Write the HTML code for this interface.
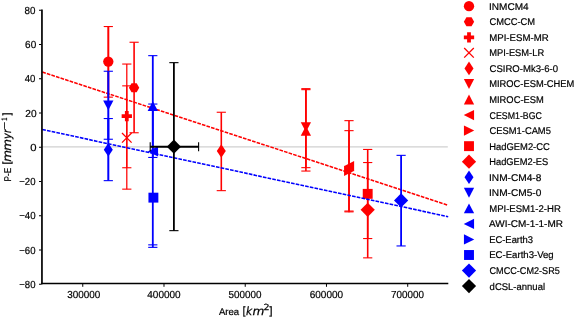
<!DOCTYPE html>
<html><head><meta charset="utf-8"><title>P-E vs Area</title>
<style>html,body{margin:0;padding:0;background:#fff}svg{display:block}text{white-space:pre;text-rendering:geometricPrecision}</style></head>
<body><svg width="575" height="318" viewBox="0 0 575 318">
<rect width="575" height="318" fill="#fff"/>
<line x1="41.95" y1="146.85" x2="447.8" y2="146.85" stroke="#d0d0d0" stroke-width="1.2"/>
<g transform="translate(0 0.25)">
<line x1="108.3" y1="26.3" x2="108.3" y2="96.9" stroke="#ff0000" stroke-width="2.0"/>
<line x1="103.7" y1="26.3" x2="112.89999999999999" y2="26.3" stroke="#ff0000" stroke-width="1.1"/>
<line x1="103.7" y1="96.9" x2="112.89999999999999" y2="96.9" stroke="#ff0000" stroke-width="1.1"/>
<circle cx="108.3" cy="61.3" r="5.15" fill="#ff0000"/>
<line x1="134.1" y1="42.0" x2="134.1" y2="132.5" stroke="#ff0000" stroke-width="1.6"/>
<line x1="129.5" y1="42.0" x2="138.7" y2="42.0" stroke="#ff0000" stroke-width="1.1"/>
<line x1="129.5" y1="132.5" x2="138.7" y2="132.5" stroke="#ff0000" stroke-width="1.1"/>
<polygon points="139.25,87.50 136.67,91.96 131.53,91.96 128.95,87.50 131.53,83.04 136.67,83.04" fill="#ff0000"/>
<line x1="126.8" y1="63.8" x2="126.8" y2="167.5" stroke="#ff0000" stroke-width="1.25"/>
<line x1="122.2" y1="63.8" x2="131.4" y2="63.8" stroke="#ff0000" stroke-width="1.1"/>
<line x1="122.2" y1="167.5" x2="131.4" y2="167.5" stroke="#ff0000" stroke-width="1.1"/>
<polygon points="124.91,110.65 128.69,110.65 128.69,113.91 131.95,113.91 131.95,117.69 128.69,117.69 128.69,120.95 124.91,120.95 124.91,117.69 121.65,117.69 121.65,113.91 124.91,113.91" fill="#ff0000"/>
<line x1="126.8" y1="85.6" x2="126.8" y2="188.9" stroke="#ff0000" stroke-width="1.25"/>
<line x1="122.2" y1="85.6" x2="131.4" y2="85.6" stroke="#ff0000" stroke-width="1.1"/>
<line x1="122.2" y1="188.9" x2="131.4" y2="188.9" stroke="#ff0000" stroke-width="1.1"/>
<path d="M122.0 132.79999999999998L131.6 142.4M122.0 142.4L131.6 132.79999999999998" stroke="#ff0000" stroke-width="1.3" fill="none"/>
<line x1="221.3" y1="112.0" x2="221.3" y2="190.4" stroke="#ff0000" stroke-width="1.6"/>
<line x1="216.70000000000002" y1="112.0" x2="225.9" y2="112.0" stroke="#ff0000" stroke-width="1.1"/>
<line x1="216.70000000000002" y1="190.4" x2="225.9" y2="190.4" stroke="#ff0000" stroke-width="1.1"/>
<polygon points="221.30,144.00 225.80,150.80 221.30,157.60 216.80,150.80" fill="#ff0000"/>
<line x1="305.9" y1="88.4" x2="305.9" y2="167.4" stroke="#ff0000" stroke-width="1.6"/>
<line x1="301.29999999999995" y1="88.4" x2="310.5" y2="88.4" stroke="#ff0000" stroke-width="1.1"/>
<line x1="301.29999999999995" y1="167.4" x2="310.5" y2="167.4" stroke="#ff0000" stroke-width="1.1"/>
<polygon points="300.75,121.95 311.05,121.95 305.90,131.85" fill="#ff0000"/>
<line x1="305.9" y1="89.4" x2="305.9" y2="170.8" stroke="#ff0000" stroke-width="1.6"/>
<line x1="301.29999999999995" y1="89.4" x2="310.5" y2="89.4" stroke="#ff0000" stroke-width="1.1"/>
<line x1="301.29999999999995" y1="170.8" x2="310.5" y2="170.8" stroke="#ff0000" stroke-width="1.1"/>
<polygon points="300.75,135.55 311.05,135.55 305.90,125.65" fill="#ff0000"/>
<line x1="349.0" y1="120.4" x2="349.0" y2="212.0" stroke="#ff0000" stroke-width="1.6"/>
<line x1="344.4" y1="120.4" x2="353.6" y2="120.4" stroke="#ff0000" stroke-width="1.1"/>
<line x1="344.4" y1="211.6" x2="353.6" y2="211.6" stroke="#ff0000" stroke-width="1.1"/>
<polygon points="354.15,160.75 354.15,171.05 343.85,165.90" fill="#ff0000"/>
<line x1="349.0" y1="130.4" x2="349.0" y2="210.6" stroke="#ff0000" stroke-width="1.6"/>
<line x1="344.4" y1="130.4" x2="353.6" y2="130.4" stroke="#ff0000" stroke-width="1.1"/>
<line x1="344.4" y1="210.8" x2="353.6" y2="210.8" stroke="#ff0000" stroke-width="1.1"/>
<polygon points="344.05,165.45 344.05,175.75 354.35,170.60" fill="#ff0000"/>
<line x1="367.7" y1="149.2" x2="367.7" y2="238.3" stroke="#ff0000" stroke-width="1.6"/>
<line x1="363.09999999999997" y1="149.2" x2="372.3" y2="149.2" stroke="#ff0000" stroke-width="1.1"/>
<line x1="363.09999999999997" y1="238.3" x2="372.3" y2="238.3" stroke="#ff0000" stroke-width="1.1"/>
<rect x="362.75" y="188.65" width="9.90" height="9.90" fill="#ff0000"/>
<line x1="367.7" y1="162.3" x2="367.7" y2="257.6" stroke="#ff0000" stroke-width="1.6"/>
<line x1="363.09999999999997" y1="162.3" x2="372.3" y2="162.3" stroke="#ff0000" stroke-width="1.1"/>
<line x1="363.09999999999997" y1="257.6" x2="372.3" y2="257.6" stroke="#ff0000" stroke-width="1.1"/>
<polygon points="367.70,202.50 374.80,209.60 367.70,216.70 360.60,209.60" fill="#ff0000"/>
<line x1="42.3" y1="71.8" x2="448.2" y2="205.0" stroke="#ff0000" stroke-width="1.55" stroke-dasharray="3.65 1.15"/>
<line x1="108.3" y1="118.3" x2="108.3" y2="180.4" stroke="#0000ff" stroke-width="2.0"/>
<line x1="103.7" y1="118.3" x2="112.89999999999999" y2="118.3" stroke="#0000ff" stroke-width="1.1"/>
<line x1="103.7" y1="180.4" x2="112.89999999999999" y2="180.4" stroke="#0000ff" stroke-width="1.1"/>
<polygon points="108.30,142.70 112.80,149.50 108.30,156.30 103.80,149.50" fill="#0000ff"/>
<line x1="108.3" y1="71.0" x2="108.3" y2="139.0" stroke="#0000ff" stroke-width="2.0"/>
<line x1="103.7" y1="71.0" x2="112.89999999999999" y2="71.0" stroke="#0000ff" stroke-width="1.1"/>
<line x1="103.7" y1="139.0" x2="112.89999999999999" y2="139.0" stroke="#0000ff" stroke-width="1.1"/>
<polygon points="103.15,100.15 113.45,100.15 108.30,110.05" fill="#0000ff"/>
<line x1="152.8" y1="55.4" x2="152.8" y2="157.2" stroke="#0000ff" stroke-width="1.8"/>
<line x1="148.20000000000002" y1="55.4" x2="157.4" y2="55.4" stroke="#0000ff" stroke-width="1.1"/>
<line x1="148.20000000000002" y1="157.2" x2="157.4" y2="157.2" stroke="#0000ff" stroke-width="1.1"/>
<polygon points="147.65,110.85 157.95,110.85 152.80,100.95" fill="#0000ff"/>
<line x1="152.8" y1="103.8" x2="152.8" y2="247.1" stroke="#0000ff" stroke-width="1.8"/>
<line x1="148.20000000000002" y1="103.8" x2="157.4" y2="103.8" stroke="#0000ff" stroke-width="1.1"/>
<line x1="148.20000000000002" y1="244.6" x2="157.4" y2="244.6" stroke="#0000ff" stroke-width="1.1"/>
<line x1="148.20000000000002" y1="247.1" x2="157.4" y2="247.1" stroke="#0000ff" stroke-width="1.1"/>
<polygon points="158.05,146.05 158.05,156.35 147.75,151.20" fill="#0000ff"/>
<rect x="148.45" y="192.45" width="9.90" height="9.90" fill="#0000ff"/>
<line x1="401.1" y1="155.1" x2="401.1" y2="245.7" stroke="#0000ff" stroke-width="1.8"/>
<line x1="396.5" y1="155.1" x2="405.70000000000005" y2="155.1" stroke="#0000ff" stroke-width="1.1"/>
<line x1="396.5" y1="245.7" x2="405.70000000000005" y2="245.7" stroke="#0000ff" stroke-width="1.1"/>
<polygon points="401.10,193.10 408.20,200.20 401.10,207.30 394.00,200.20" fill="#0000ff"/>
<line x1="42.3" y1="129.3" x2="448.2" y2="216.4" stroke="#0000ff" stroke-width="1.55" stroke-dasharray="3.65 1.15"/>
<line x1="173.9" y1="62.4" x2="173.9" y2="230.4" stroke="#000000" stroke-width="1.8"/>
<line x1="169.3" y1="62.4" x2="178.5" y2="62.4" stroke="#000000" stroke-width="1.1"/>
<line x1="169.3" y1="230.4" x2="178.5" y2="230.4" stroke="#000000" stroke-width="1.1"/>
<line x1="150.2" y1="146.5" x2="198.6" y2="146.5" stroke="#000" stroke-width="1.8"/>
<line x1="150.2" y1="142.1" x2="150.2" y2="150.9" stroke="#000" stroke-width="1.1"/>
<line x1="198.6" y1="142.1" x2="198.6" y2="150.9" stroke="#000" stroke-width="1.1"/>
<polygon points="173.90,139.30 181.00,146.40 173.90,153.50 166.80,146.40" fill="#000000"/>
</g>
<line x1="41.95" y1="9.5" x2="41.95" y2="284.3" stroke="#000" stroke-width="1.7"/>
<line x1="41.1" y1="283.55" x2="448.3" y2="283.55" stroke="#000" stroke-width="1.6"/>
<line x1="39.0" y1="284.25" x2="41.5" y2="284.25" stroke="#000" stroke-width="1"/>
<line x1="39.0" y1="250.00" x2="41.5" y2="250.00" stroke="#000" stroke-width="1"/>
<line x1="39.0" y1="215.75" x2="41.5" y2="215.75" stroke="#000" stroke-width="1"/>
<line x1="39.0" y1="181.50" x2="41.5" y2="181.50" stroke="#000" stroke-width="1"/>
<line x1="39.0" y1="147.25" x2="41.5" y2="147.25" stroke="#000" stroke-width="1"/>
<line x1="39.0" y1="113.00" x2="41.5" y2="113.00" stroke="#000" stroke-width="1"/>
<line x1="39.0" y1="78.75" x2="41.5" y2="78.75" stroke="#000" stroke-width="1"/>
<line x1="39.0" y1="44.50" x2="41.5" y2="44.50" stroke="#000" stroke-width="1"/>
<line x1="39.0" y1="10.25" x2="41.5" y2="10.25" stroke="#000" stroke-width="1"/>
<line x1="82.75" y1="283.8" x2="82.75" y2="286.8" stroke="#000" stroke-width="1"/>
<line x1="163.99" y1="283.8" x2="163.99" y2="286.8" stroke="#000" stroke-width="1"/>
<line x1="245.23" y1="283.8" x2="245.23" y2="286.8" stroke="#000" stroke-width="1"/>
<line x1="326.47" y1="283.8" x2="326.47" y2="286.8" stroke="#000" stroke-width="1"/>
<line x1="407.71" y1="283.8" x2="407.71" y2="286.8" stroke="#000" stroke-width="1"/>
<circle cx="469.0" cy="6.2" r="5.15" fill="#ff0000"/>
<polygon points="474.15,21.75 471.57,26.21 466.43,26.21 463.85,21.75 466.43,17.29 471.57,17.29" fill="#ff0000"/>
<polygon points="467.11,32.15 470.89,32.15 470.89,35.41 474.15,35.41 474.15,39.19 470.89,39.19 470.89,42.45 467.11,42.45 467.11,39.19 463.85,39.19 463.85,35.41 467.11,35.41" fill="#ff0000"/>
<path d="M464.2 48.050000000000004L473.8 57.65M464.2 57.65L473.8 48.050000000000004" stroke="#ff0000" stroke-width="1.3" fill="none"/>
<polygon points="469.00,61.60 473.50,68.40 469.00,75.20 464.50,68.40" fill="#ff0000"/>
<polygon points="463.85,79.00 474.15,79.00 469.00,88.90" fill="#ff0000"/>
<polygon points="463.85,104.45 474.15,104.45 469.00,94.55" fill="#ff0000"/>
<polygon points="474.05,109.90 474.05,120.20 463.75,115.05" fill="#ff0000"/>
<polygon points="463.95,125.45 463.95,135.75 474.25,130.60" fill="#ff0000"/>
<rect x="464.05" y="141.20" width="9.90" height="9.90" fill="#ff0000"/>
<polygon points="469.00,154.60 476.10,161.70 469.00,168.80 461.90,161.70" fill="#ff0000"/>
<polygon points="469.00,170.45 473.50,177.25 469.00,184.05 464.50,177.25" fill="#0000ff"/>
<polygon points="463.85,187.85 474.15,187.85 469.00,197.75" fill="#0000ff"/>
<polygon points="463.85,213.30 474.15,213.30 469.00,203.40" fill="#0000ff"/>
<polygon points="474.05,218.75 474.05,229.05 463.75,223.90" fill="#0000ff"/>
<polygon points="463.95,234.30 463.95,244.60 474.25,239.45" fill="#0000ff"/>
<rect x="464.05" y="250.05" width="9.90" height="9.90" fill="#0000ff"/>
<polygon points="469.00,263.45 476.10,270.55 469.00,277.65 461.90,270.55" fill="#0000ff"/>
<polygon points="469.00,279.00 476.10,286.10 469.00,293.20 461.90,286.10" fill="#000000"/>
<text transform="translate(24.48 14.10) scale(0.9614 1)" font-size="10.2" font-family="'Liberation Sans',sans-serif" fill="#000" stroke="#000" stroke-width="0.2">80</text>
<text transform="translate(25.10 48.05) scale(0.9780 1)" font-size="10.2" font-family="'Liberation Sans',sans-serif" fill="#000" stroke="#000" stroke-width="0.2">60</text>
<text transform="translate(24.68 82.00) scale(0.9430 1)" font-size="10.2" font-family="'Liberation Sans',sans-serif" fill="#000" stroke="#000" stroke-width="0.2">40</text>
<text transform="translate(25.29 116.80) scale(0.9972 1)" font-size="10.2" font-family="'Liberation Sans',sans-serif" fill="#000" stroke="#000" stroke-width="0.2">20</text>
<text transform="translate(30.35 150.70) scale(1.1087 1)" font-size="10.2" font-family="'Liberation Sans',sans-serif" fill="#000" stroke="#000" stroke-width="0.2">0</text>
<text transform="translate(19.22 184.80) scale(0.9392 1)" font-size="10.2" font-family="'Liberation Sans',sans-serif" fill="#000" stroke="#000" stroke-width="0.2">−20</text>
<text transform="translate(19.21 218.80) scale(0.9514 1)" font-size="10.2" font-family="'Liberation Sans',sans-serif" fill="#000" stroke="#000" stroke-width="0.2">−40</text>
<text transform="translate(19.22 253.60) scale(0.9392 1)" font-size="10.2" font-family="'Liberation Sans',sans-serif" fill="#000" stroke="#000" stroke-width="0.2">−60</text>
<text transform="translate(19.22 287.60) scale(0.9392 1)" font-size="10.2" font-family="'Liberation Sans',sans-serif" fill="#000" stroke="#000" stroke-width="0.2">−80</text>
<text transform="translate(67.13 297.80) scale(0.9744 1)" font-size="10.2" font-family="'Liberation Sans',sans-serif" fill="#000" stroke="#000" stroke-width="0.2">300000</text>
<text transform="translate(147.27 297.80) scale(0.9819 1)" font-size="10.2" font-family="'Liberation Sans',sans-serif" fill="#000" stroke="#000" stroke-width="0.2">400000</text>
<text transform="translate(228.60 297.80) scale(0.9691 1)" font-size="10.2" font-family="'Liberation Sans',sans-serif" fill="#000" stroke="#000" stroke-width="0.2">500000</text>
<text transform="translate(309.70 297.80) scale(0.9811 1)" font-size="10.2" font-family="'Liberation Sans',sans-serif" fill="#000" stroke="#000" stroke-width="0.2">600000</text>
<text transform="translate(391.08 297.80) scale(0.9668 1)" font-size="10.2" font-family="'Liberation Sans',sans-serif" fill="#000" stroke="#000" stroke-width="0.2">700000</text>
<text fill="#000"><tspan x="218.98" y="314.90" font-size="9.80" font-family="'Liberation Sans',sans-serif" textLength="22.80" lengthAdjust="spacingAndGlyphs" stroke="#000" stroke-width="0.2">Area </tspan><tspan x="242.38" y="315.20" font-size="11.40" font-family="'DejaVu Sans',sans-serif" textLength="3.76" lengthAdjust="spacingAndGlyphs" stroke="#000" stroke-width="0.25">[</tspan><tspan x="245.93" y="315.20" font-size="11.40" font-family="'DejaVu Sans',sans-serif" font-style="italic" textLength="6.14" lengthAdjust="spacingAndGlyphs" stroke="#000" stroke-width="0.25">k</tspan><tspan x="252.57" y="315.20" font-size="11.40" font-family="'DejaVu Sans',sans-serif" font-style="italic" textLength="11.87" lengthAdjust="spacingAndGlyphs" stroke="#000" stroke-width="0.25">m</tspan><tspan x="263.51" y="309.90" font-size="8.44" font-family="'DejaVu Sans',sans-serif" textLength="6.05" lengthAdjust="spacingAndGlyphs" stroke="#000" stroke-width="0.25">2</tspan><tspan x="268.47" y="315.20" font-size="11.40" font-family="'DejaVu Sans',sans-serif" textLength="4.14" lengthAdjust="spacingAndGlyphs" stroke="#000" stroke-width="0.25">]</tspan></text>
<text fill="#000" transform="rotate(-90)"><tspan x="-181.42" y="10.80" font-size="9.80" font-family="'Liberation Sans',sans-serif" textLength="15.76" lengthAdjust="spacingAndGlyphs" stroke="#000" stroke-width="0.2">P-E </tspan><tspan x="-164.42" y="10.80" font-size="11.40" font-family="'DejaVu Sans',sans-serif" textLength="3.76" lengthAdjust="spacingAndGlyphs" stroke="#000" stroke-width="0.25">[</tspan><tspan x="-161.82" y="10.80" font-size="11.40" font-family="'DejaVu Sans',sans-serif" font-style="italic" textLength="11.76" lengthAdjust="spacingAndGlyphs" stroke="#000" stroke-width="0.25">m</tspan><tspan x="-150.82" y="10.80" font-size="11.40" font-family="'DejaVu Sans',sans-serif" font-style="italic" textLength="11.76" lengthAdjust="spacingAndGlyphs" stroke="#000" stroke-width="0.25">m</tspan><tspan x="-139.05" y="10.80" font-size="11.40" font-family="'DejaVu Sans',sans-serif" font-style="italic" textLength="5.94" lengthAdjust="spacingAndGlyphs" stroke="#000" stroke-width="0.25">y</tspan><tspan x="-133.00" y="10.80" font-size="11.40" font-family="'DejaVu Sans',sans-serif" font-style="italic" textLength="3.56" lengthAdjust="spacingAndGlyphs" stroke="#000" stroke-width="0.25">r</tspan><tspan x="-129.75" y="7.10" font-size="7.98" font-family="'DejaVu Sans',sans-serif" textLength="8.41" lengthAdjust="spacingAndGlyphs" stroke="#000" stroke-width="0.25">−</tspan><tspan x="-120.72" y="6.70" font-size="8.00" font-family="'Liberation Sans',sans-serif" textLength="3.09" lengthAdjust="spacingAndGlyphs" stroke="#000" stroke-width="0.2">1</tspan><tspan x="-116.14" y="10.80" font-size="11.40" font-family="'DejaVu Sans',sans-serif" textLength="3.76" lengthAdjust="spacingAndGlyphs" stroke="#000" stroke-width="0.25">]</tspan></text>
<text transform="translate(489.07 9.65) scale(1.0251 1)" font-size="9.8" font-family="'Liberation Sans',sans-serif" fill="#000" stroke="#000" stroke-width="0.2">INMCM4</text>
<text transform="translate(489.53 25.20) scale(0.9507 1)" font-size="9.8" font-family="'Liberation Sans',sans-serif" fill="#000" stroke="#000" stroke-width="0.2">CMCC-CM</text>
<text transform="translate(489.20 40.75) scale(0.9836 1)" font-size="9.8" font-family="'Liberation Sans',sans-serif" fill="#000" stroke="#000" stroke-width="0.2">MPI-ESM-MR</text>
<text transform="translate(489.23 56.30) scale(0.9513 1)" font-size="9.8" font-family="'Liberation Sans',sans-serif" fill="#000" stroke="#000" stroke-width="0.2">MPI-ESM-LR</text>
<text transform="translate(489.52 71.85) scale(0.9743 1)" font-size="9.8" font-family="'Liberation Sans',sans-serif" fill="#000" stroke="#000" stroke-width="0.2">CSIRO-Mk3-6-0</text>
<text transform="translate(489.23 87.40) scale(0.9525 1)" font-size="9.8" font-family="'Liberation Sans',sans-serif" fill="#000" stroke="#000" stroke-width="0.2">MIROC-ESM-CHEM</text>
<text transform="translate(489.23 102.95) scale(0.9542 1)" font-size="9.8" font-family="'Liberation Sans',sans-serif" fill="#000" stroke="#000" stroke-width="0.2">MIROC-ESM</text>
<text transform="translate(489.56 118.50) scale(0.8993 1)" font-size="9.8" font-family="'Liberation Sans',sans-serif" fill="#000" stroke="#000" stroke-width="0.2">CESM1-BGC</text>
<text transform="translate(489.53 134.05) scale(0.9549 1)" font-size="9.8" font-family="'Liberation Sans',sans-serif" fill="#000" stroke="#000" stroke-width="0.2">CESM1-CAM5</text>
<text transform="translate(489.22 149.60) scale(0.9599 1)" font-size="9.8" font-family="'Liberation Sans',sans-serif" fill="#000" stroke="#000" stroke-width="0.2">HadGEM2-CC</text>
<text transform="translate(489.23 165.15) scale(0.9505 1)" font-size="9.8" font-family="'Liberation Sans',sans-serif" fill="#000" stroke="#000" stroke-width="0.2">HadGEM2-ES</text>
<text transform="translate(489.06 180.70) scale(1.0326 1)" font-size="9.8" font-family="'Liberation Sans',sans-serif" fill="#000" stroke="#000" stroke-width="0.2">INM-CM4-8</text>
<text transform="translate(489.06 196.25) scale(1.0316 1)" font-size="9.8" font-family="'Liberation Sans',sans-serif" fill="#000" stroke="#000" stroke-width="0.2">INM-CM5-0</text>
<text transform="translate(489.21 211.80) scale(0.9747 1)" font-size="9.8" font-family="'Liberation Sans',sans-serif" fill="#000" stroke="#000" stroke-width="0.2">MPI-ESM1-2-HR</text>
<text transform="translate(488.98 227.35) scale(1.0194 1)" font-size="9.8" font-family="'Liberation Sans',sans-serif" fill="#000" stroke="#000" stroke-width="0.2">AWI-CM-1-1-MR</text>
<text transform="translate(489.23 242.90) scale(0.9569 1)" font-size="9.8" font-family="'Liberation Sans',sans-serif" fill="#000" stroke="#000" stroke-width="0.2">EC-Earth3</text>
<text transform="translate(489.21 258.45) scale(0.9785 1)" font-size="9.8" font-family="'Liberation Sans',sans-serif" fill="#000" stroke="#000" stroke-width="0.2">EC-Earth3-Veg</text>
<text transform="translate(489.55 274.00) scale(0.9281 1)" font-size="9.8" font-family="'Liberation Sans',sans-serif" fill="#000" stroke="#000" stroke-width="0.2">CMCC-CM2-SR5</text>
<text transform="translate(489.60 289.55) scale(0.9692 1)" font-size="9.8" font-family="'Liberation Sans',sans-serif" fill="#000" stroke="#000" stroke-width="0.2">dCSL-annual</text>
</svg></body></html>
